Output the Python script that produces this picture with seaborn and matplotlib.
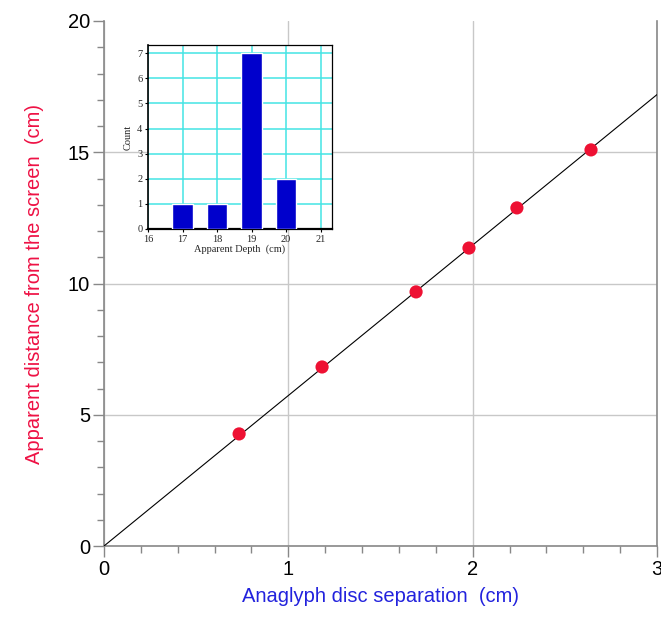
import numpy as np
import pandas as pd
import matplotlib
matplotlib.use("Agg")
import matplotlib.pyplot as plt
from matplotlib.ticker import MultipleLocator
import seaborn as sns

# ---- data ----
separation = [0.733, 1.183, 1.693, 1.98, 2.24, 2.642]     # cm
apparent_dist = [4.27, 6.82, 9.68, 11.35, 12.88, 15.09]  # cm

depth_bins = [17, 18, 19, 20]
depth_counts = [1, 1, 7, 2]

x_ticks = [0, 1, 2, 3]
y_ticks = [0, 5, 10, 15, 20]
inset_x_ticks = [16, 17, 18, 19, 20, 21]
inset_y_ticks = [0, 1, 2, 3, 4, 5, 6, 7]

sns.set_style("white")
plt.rcParams['font.family'] = ['Liberation Sans', 'DejaVu Sans']

fig = plt.figure(figsize=(6.61, 6.19), dpi=100)
ax = fig.add_axes([104/661, 1-546/619, (657-104)/661, (546-21)/619])

# fit line through origin (least squares)
xs = np.array(separation)
ys = np.array(apparent_dist)
slope = (xs * ys).sum() / (xs * xs).sum()
line_df = pd.DataFrame({"x": [0, 3], "y": [0, 3 * slope]})
sns.lineplot(data=line_df, x="x", y="y", ax=ax, color="black", linewidth=0.8, zorder=3)

pts = pd.DataFrame({"x": separation, "y": apparent_dist})
sns.scatterplot(data=pts, x="x", y="y", ax=ax, color="#ee1133", s=90,
                edgecolor="none", zorder=4)

ax.set_xlim(0, 3)
ax.set_ylim(0, 20)
ax.set_xticks(x_ticks)
ax.set_yticks(y_ticks)
ax.xaxis.set_minor_locator(MultipleLocator(0.2))
ax.yaxis.set_minor_locator(MultipleLocator(1))
ax.tick_params(axis="both", which="both", bottom=True, left=True, top=False, right=False)
ax.tick_params(axis="both", which="major", direction="out", length=8, width=1,
               color="#888888", labelsize=14.5, labelcolor="black", pad=2)
ax.tick_params(axis="both", which="minor", direction="out", length=5, width=1,
               color="#888888")
ax.grid(True, which="major", color="#c8c8c8", linewidth=1)
# no grid line along the top edge (y = 20)
ax.yaxis.get_gridlines()[-1].set_visible(False)
for s in ["left", "bottom", "right"]:
    ax.spines[s].set_color("#888888")
    ax.spines[s].set_linewidth(1.2)
ax.spines["top"].set_visible(False)

ax.set_xlabel("Anaglyph disc separation  (cm)", fontsize=14.5, color="#2222dd", labelpad=6)
ax.set_ylabel("Apparent distance from the screen  (cm)", fontsize=14.5, color="#ee1144", labelpad=17)

# ---- inset histogram ----
ins = fig.add_axes([148/661, 1-229/619, 184/661, 184/619])
hist_df = pd.DataFrame({"depth": depth_bins, "count": depth_counts})
sns.barplot(data=hist_df, x="depth", y="count", native_scale=True, width=0.6,
            color="#0000cc", saturation=1, ax=ins, zorder=3)
ins.set_xlim(16, 21.33)
ins.set_ylim(0, 7.33)
ins.set_xticks(inset_x_ticks)
ins.set_yticks(inset_y_ticks)
ins.grid(True, color="#44e4e4", linewidth=1.1, zorder=0)
ins.set_axisbelow(True)
ins.tick_params(axis="both", bottom=True, left=True, direction="out", length=2.5,
                width=0.8, color="black", labelsize=7.5, pad=1.5)
for lab in ins.get_xticklabels() + ins.get_yticklabels():
    lab.set_fontfamily(["Liberation Serif", "DejaVu Serif"])
for s in ins.spines.values():
    s.set_color("black")
    s.set_linewidth(0.9)
ins.spines["bottom"].set_linewidth(1.6)
ins.spines["left"].set_linewidth(1.2)
ins.set_xlabel("Apparent Depth  (cm)", fontsize=7.5, family=["Liberation Serif", "DejaVu Serif"], labelpad=0.5)
ins.set_ylabel("Count", fontsize=7.5, family=["Liberation Serif", "DejaVu Serif"], labelpad=3)

fig.savefig("out.png", dpi=100)
